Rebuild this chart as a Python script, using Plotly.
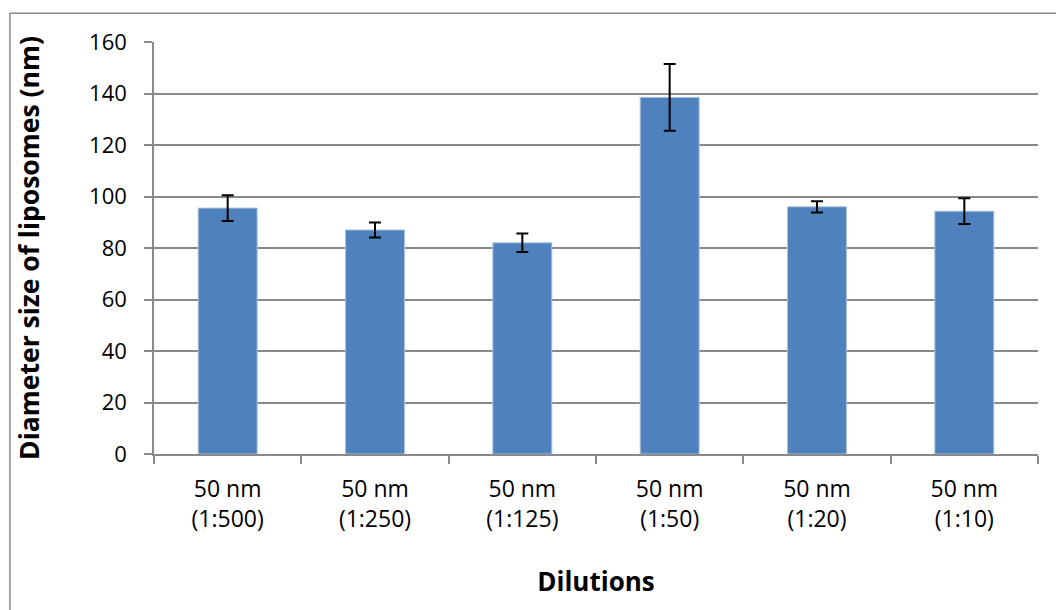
import plotly.graph_objects as go

categories = ["50 nm<br>(1:500)", "50 nm<br>(1:250)", "50 nm<br>(1:125)",
              "50 nm<br>(1:50)", "50 nm<br>(1:20)", "50 nm<br>(1:10)"]
diameters = [95.5, 87.0, 82.0, 138.5, 96.0, 94.3]
errors = [5.0, 2.9, 3.6, 13.0, 2.2, 5.0]

FONT = "Open Sans"
GRID = "#898989"

fig = go.Figure(go.Bar(
    x=categories, y=diameters,
    marker=dict(color="#4F81BD", line=dict(color="#A9C0DF", width=1)),
    error_y=dict(type="data", array=errors, visible=True,
                 color="black", thickness=2, width=6),
    width=0.4,
))

fig.update_layout(
    width=1056, height=610,
    margin=dict(l=154, r=18, t=42, b=156),
    paper_bgcolor="white", plot_bgcolor="white",
    showlegend=False,
    font=dict(family=FONT, size=22, color="black"),
    xaxis=dict(
        type="category", tickson="boundaries", ticks="outside", ticklen=8,
        tickcolor=GRID, tickwidth=1.5,
        showline=True, linecolor=GRID, linewidth=1.5,
        showgrid=False,
        tickfont=dict(family=FONT, size=23),
        ticklabelstandoff=14,
        title=dict(text="<b>Dilutions</b>", font=dict(family=FONT, size=26), standoff=40),
    ),
    yaxis=dict(
        range=[0, 160], dtick=20, ticks="outside", ticklen=8,
        tickcolor=GRID, tickwidth=1.5,
        showline=True, linecolor=GRID, linewidth=1.5,
        showgrid=True, gridcolor=GRID, gridwidth=1.5,
        zeroline=False,
        tickfont=dict(family=FONT, size=22),
        ticklabelstandoff=13,
        title=dict(text="<b>Diameter size of liposomes (nm)</b>",
                   font=dict(family=FONT, size=26.5), standoff=42),
    ),
    shapes=[dict(type="rect", xref="paper", yref="paper",
                 x0=-0.163, x1=1.05, y0=-0.39, y1=1.07,
                 line=dict(color=GRID, width=1.5), fillcolor="rgba(0,0,0,0)",
                 layer="below")],
)

fig.write_html("out.html", config={"displayModeBar": False},
               post_script="document.body.style.margin='0px';")
